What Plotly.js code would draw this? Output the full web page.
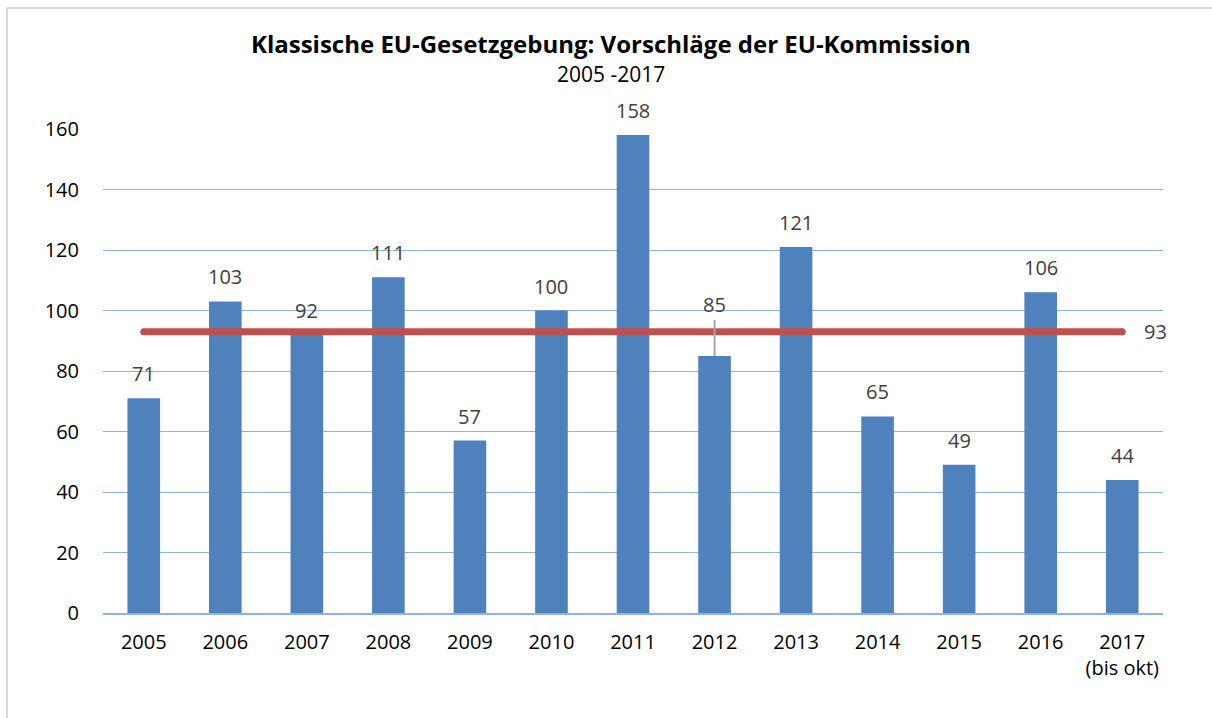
<!DOCTYPE html>
<html><head><meta charset="utf-8">
<script src="https://cdn.plot.ly/plotly-3.0.1.min.js"></script>
<style>html,body{margin:0;padding:0;background:#fff}#chart{width:1212px;height:718px}</style>
</head><body><div id="chart"></div>
<script>
const years = ['2005','2006','2007','2008','2009','2010','2011','2012','2013','2014','2015','2016','2017'];
const tickLabels = ['2005','2006','2007','2008','2009','2010','2011','2012','2013','2014','2015','2016','2017<br>(bis okt)'];
const proposals = [71,103,92,111,57,100,158,85,121,65,49,106,44];
const average = 93;
const titleText = 'Klassische EU-Gesetzgebung: Vorschläge der EU-Kommission';
const subtitleText = '2005 -2017';

const FONT = 'Open Sans, Noto Sans, sans-serif';
const bars = {
  type:'bar', x:years, y:proposals,
  marker:{color:'#4F81BD'}, hoverinfo:'none'
};
const avgLine = {
  type:'scatter', mode:'lines', x:years, y:years.map(()=>average),
  line:{color:'#C0504D', width:7}, hoverinfo:'none'
};
const avgEnds = {
  type:'scatter', mode:'markers', x:[years[0], years[years.length-1]], y:[average, average],
  marker:{color:'#C0504D', size:7, line:{width:0}}, hoverinfo:'none'
};
const annotations = proposals.map((v,i)=>{
  if (years[i]==='2012') {
    return {x:i, y:v, xref:'x', yref:'y', text:String(v), showarrow:true,
      arrowhead:0, arrowwidth:2, arrowcolor:'#A6A6A6', ax:0, ay:-51, standoff:0,
      font:{family:FONT, size:20, color:'#404040'}};
  }
  return {x:i, y:v, xref:'x', yref:'y', text:String(v), showarrow:false,
    yanchor:'bottom', yshift:9, font:{family:FONT, size:20, color:'#404040'}};
});
annotations.push({x:years.length-1, y:average, xref:'x', yref:'y', text:String(average),
  showarrow:false, xanchor:'left', xshift:20, font:{family:FONT, size:20, color:'#404040'}});
const tx = (611-103)/1060;
annotations.push({x:tx, xref:'paper', y:(613-44)/484, yref:'paper', yanchor:'middle',
  text:'<b>'+titleText+'</b>', showarrow:false, font:{family:FONT, size:24, color:'#000'}});
annotations.push({x:tx, xref:'paper', y:(613-74)/484, yref:'paper', yanchor:'middle',
  text:subtitleText, showarrow:false, font:{family:FONT, size:21, color:'#000'}});

const layout = {
  width:1212, height:718,
  margin:{l:103, r:49, t:129, b:105},
  paper_bgcolor:'#fff', plot_bgcolor:'#fff',
  showlegend:false,
  bargap:0.6,
  font:{family:FONT, size:20, color:'#000'},
  xaxis:{type:'category', range:[-0.5, years.length-0.5], autorange:false,
    tickvals:years, ticktext:tickLabels, showgrid:false, tickangle:0,
    showline:true, linecolor:'#8EB4E3', linewidth:1.5,
    ticks:'outside', ticklen:10, tickcolor:'rgba(0,0,0,0)', zeroline:false,
    tickfont:{family:FONT, size:20, color:'#000'}, fixedrange:true},
  yaxis:{range:[0,160], autorange:false, dtick:20, showgrid:true, gridcolor:'#8EB4E3', gridwidth:1,
    zeroline:false, showline:false, ticks:'outside', ticklen:19, tickcolor:'rgba(0,0,0,0)',
    tickfont:{family:FONT, size:20, color:'#000'}, fixedrange:true},
  annotations:annotations,
  shapes:[
    {type:'line', xref:'paper', yref:'paper', x0:-96/1060, x1:1.2, y0:605/484, y1:605/484,
      line:{color:'#D9D9D9', width:2}},
    {type:'line', xref:'paper', yref:'paper', x0:-96/1060, x1:-96/1060, y0:605/484, y1:-0.25,
      line:{color:'#D9D9D9', width:2}}
  ]
};
Plotly.newPlot('chart', [bars, avgLine, avgEnds], layout, {staticPlot:true, displayModeBar:false});
</script></body></html>
